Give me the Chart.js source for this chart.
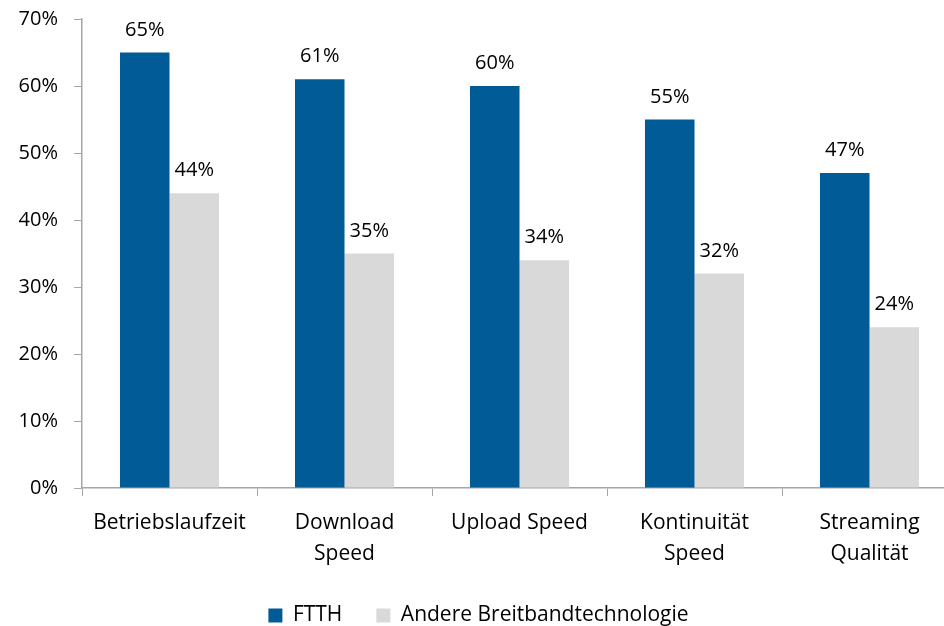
<!DOCTYPE html>
<html>
<head>
<meta charset="utf-8">
<script src="https://cdn.jsdelivr.net/npm/chart.js@4/dist/chart.umd.min.js"></script>
<style>
	html, body { margin: 0; padding: 0; background: #fff; overflow: hidden; }
	#wrap { width: 960px; height: 626px; }
</style>
</head>
<body>
<div id="wrap"><canvas id="chart"></canvas></div>
<script>
const categories = ['Betriebslaufzeit', ['Download', 'Speed'], 'Upload Speed', ['Kontinuität', 'Speed'], ['Streaming', 'Qualität']];
const ftth = [65, 61, 60, 55, 47];
const andere = [44, 35, 34, 32, 24];
const seriesNames = ['FTTH', 'Andere Breitbandtechnologie'];

const FONT = '"Open Sans", Lato, sans-serif';
const AXIS = '#a6a6a6';

// labels above each bar
const barLabels = {
	id: 'barLabels',
	afterDatasetsDraw(chart) {
		const ctx = chart.ctx;
		ctx.save();
		ctx.font = '20px ' + FONT;
		ctx.fillStyle = '#000';
		ctx.textAlign = 'center';
		ctx.textBaseline = 'alphabetic';
		chart.data.datasets.forEach((ds, i) => {
			chart.getDatasetMeta(i).data.forEach((bar, j) => {
				ctx.fillText(ds.data[j] + '%', bar.x, bar.y - 17);
			});
		});
		ctx.restore();
	}
};

new Chart(document.getElementById('chart'), {
	type: 'bar',
	data: {
		labels: categories,
		datasets: [
			{ label: seriesNames[0], data: ftth, backgroundColor: '#005b96' },
			{ label: seriesNames[1], data: andere, backgroundColor: '#d9d9d9' },
		],
	},
	options: {
		responsive: true,
		maintainAspectRatio: false,
		animation: false,
		categoryPercentage: 0.566,
		barPercentage: 1,
		layout: { padding: { top: 19, right: 3, bottom: -10, left: 0 } },
		plugins: {
			tooltip: { enabled: false },
			legend: {
				position: 'bottom',
				labels: {
					font: { family: FONT, size: 21 },
					color: '#000',
					boxWidth: 14,
					boxHeight: 14,
					padding: 34,
				},
			},
		},
		scales: {
			x: {
				afterFit(scale) { scale.height = 83; scale.paddingLeft = 0; scale.paddingRight = 0; },
				border: { color: AXIS, width: 1.5 },
				grid: { drawOnChartArea: false, color: AXIS, tickLength: 8, offset: true },
				ticks: { font: { family: FONT, size: 21, lineHeight: 1.45 }, color: '#000', padding: 12, maxRotation: 0, autoSkip: false },
			},
			y: {
				min: 0,
				max: 70,
				afterFit(scale) { scale.width = 82; scale.paddingTop = 0; scale.paddingBottom = 0; },
				border: { color: AXIS, width: 1.5 },
				grid: { drawOnChartArea: false, color: AXIS, tickLength: 8 },
				ticks: { stepSize: 10, font: { family: FONT, size: 20 }, color: '#000', padding: 16, callback: v => v + '%' },
			},
		},
	},
	plugins: [barLabels],
});
</script>
</body>
</html>
